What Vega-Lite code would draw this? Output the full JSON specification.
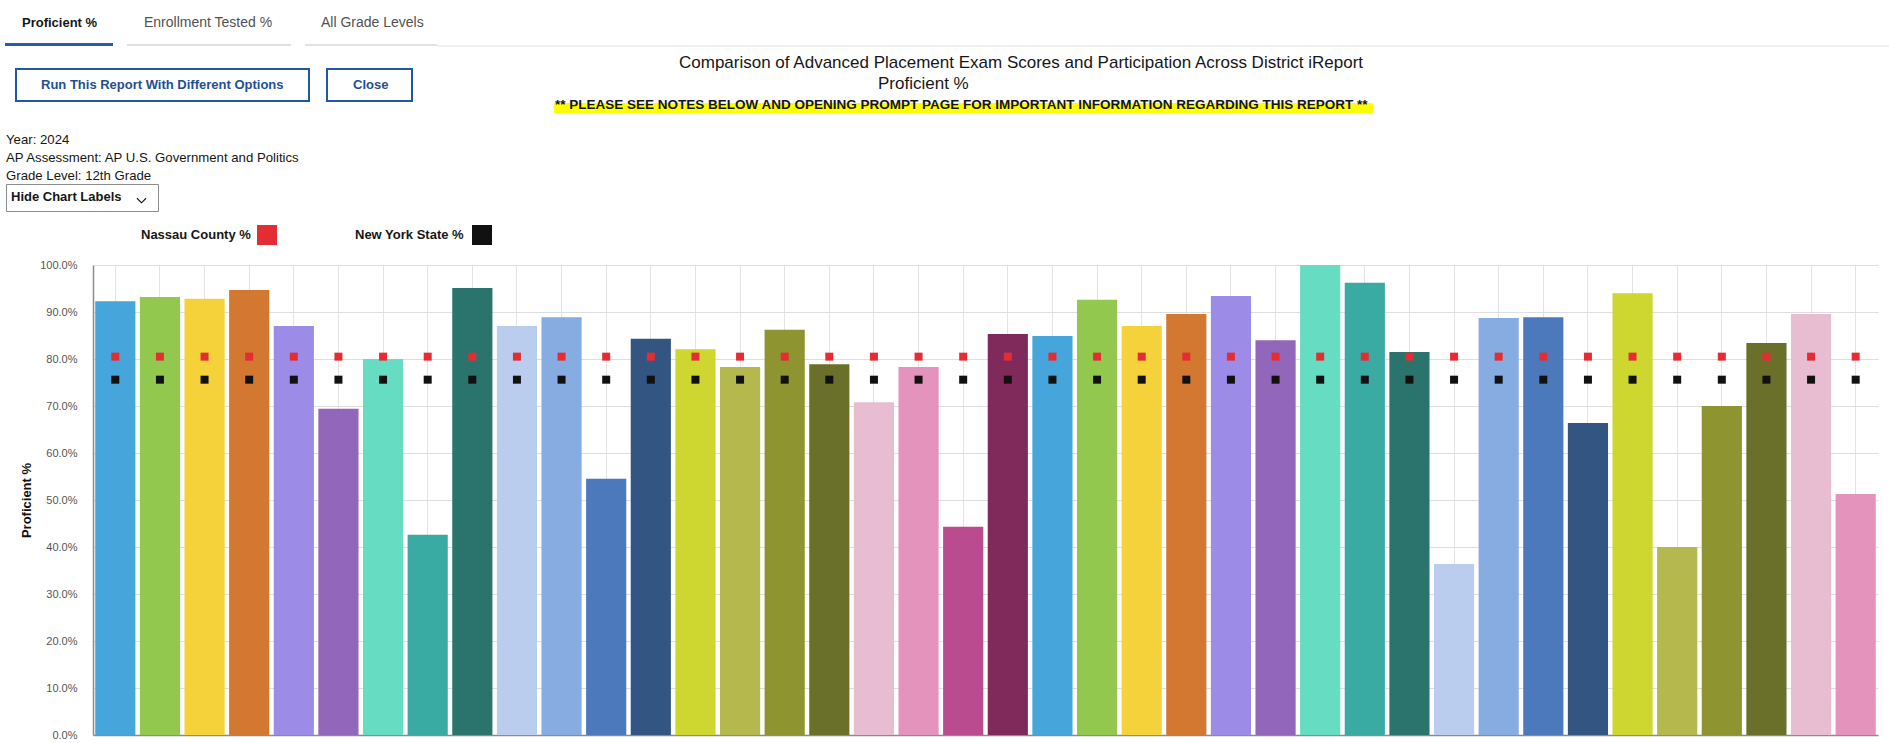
{
  "$schema": "https://vega.github.io/schema/vega-lite/v6.json",
  "autosize": {"type": "none"},
  "width": 1785,
  "height": 470,
  "padding": {"left": 93, "top": 265, "right": 11, "bottom": 8},
  "background": "white",
  "data": {
    "values": [
      {"district": "District 01", "proficient": 92.3, "Nassau County %": 80.5, "New York State %": 75.6},
      {"district": "District 02", "proficient": 93.2, "Nassau County %": 80.5, "New York State %": 75.6},
      {"district": "District 03", "proficient": 92.8, "Nassau County %": 80.5, "New York State %": 75.6},
      {"district": "District 04", "proficient": 94.7, "Nassau County %": 80.5, "New York State %": 75.6},
      {"district": "District 05", "proficient": 87.0, "Nassau County %": 80.5, "New York State %": 75.6},
      {"district": "District 06", "proficient": 69.4, "Nassau County %": 80.5, "New York State %": 75.6},
      {"district": "District 07", "proficient": 80.0, "Nassau County %": 80.5, "New York State %": 75.6},
      {"district": "District 08", "proficient": 42.6, "Nassau County %": 80.5, "New York State %": 75.6},
      {"district": "District 09", "proficient": 95.1, "Nassau County %": 80.5, "New York State %": 75.6},
      {"district": "District 10", "proficient": 87.0, "Nassau County %": 80.5, "New York State %": 75.6},
      {"district": "District 11", "proficient": 88.9, "Nassau County %": 80.5, "New York State %": 75.6},
      {"district": "District 12", "proficient": 54.5, "Nassau County %": 80.5, "New York State %": 75.6},
      {"district": "District 13", "proficient": 84.3, "Nassau County %": 80.5, "New York State %": 75.6},
      {"district": "District 14", "proficient": 82.1, "Nassau County %": 80.5, "New York State %": 75.6},
      {"district": "District 15", "proficient": 78.3, "Nassau County %": 80.5, "New York State %": 75.6},
      {"district": "District 16", "proficient": 86.2, "Nassau County %": 80.5, "New York State %": 75.6},
      {"district": "District 17", "proficient": 78.9, "Nassau County %": 80.5, "New York State %": 75.6},
      {"district": "District 18", "proficient": 70.8, "Nassau County %": 80.5, "New York State %": 75.6},
      {"district": "District 19", "proficient": 78.3, "Nassau County %": 80.5, "New York State %": 75.6},
      {"district": "District 20", "proficient": 44.3, "Nassau County %": 80.5, "New York State %": 75.6},
      {"district": "District 21", "proficient": 85.3, "Nassau County %": 80.5, "New York State %": 75.6},
      {"district": "District 22", "proficient": 84.9, "Nassau County %": 80.5, "New York State %": 75.6},
      {"district": "District 23", "proficient": 92.6, "Nassau County %": 80.5, "New York State %": 75.6},
      {"district": "District 24", "proficient": 87.0, "Nassau County %": 80.5, "New York State %": 75.6},
      {"district": "District 25", "proficient": 89.6, "Nassau County %": 80.5, "New York State %": 75.6},
      {"district": "District 26", "proficient": 93.4, "Nassau County %": 80.5, "New York State %": 75.6},
      {"district": "District 27", "proficient": 84.0, "Nassau County %": 80.5, "New York State %": 75.6},
      {"district": "District 28", "proficient": 100.0, "Nassau County %": 80.5, "New York State %": 75.6},
      {"district": "District 29", "proficient": 96.2, "Nassau County %": 80.5, "New York State %": 75.6},
      {"district": "District 30", "proficient": 81.5, "Nassau County %": 80.5, "New York State %": 75.6},
      {"district": "District 31", "proficient": 36.4, "Nassau County %": 80.5, "New York State %": 75.6},
      {"district": "District 32", "proficient": 88.7, "Nassau County %": 80.5, "New York State %": 75.6},
      {"district": "District 33", "proficient": 88.9, "Nassau County %": 80.5, "New York State %": 75.6},
      {"district": "District 34", "proficient": 66.4, "Nassau County %": 80.5, "New York State %": 75.6},
      {"district": "District 35", "proficient": 94.0, "Nassau County %": 80.5, "New York State %": 75.6},
      {"district": "District 36", "proficient": 40.0, "Nassau County %": 80.5, "New York State %": 75.6},
      {"district": "District 37", "proficient": 70.0, "Nassau County %": 80.5, "New York State %": 75.6},
      {"district": "District 38", "proficient": 83.4, "Nassau County %": 80.5, "New York State %": 75.6},
      {"district": "District 39", "proficient": 89.6, "Nassau County %": 80.5, "New York State %": 75.6},
      {"district": "District 40", "proficient": 51.3, "Nassau County %": 80.5, "New York State %": 75.6}
    ]
  },
  "encoding": {
    "x": {
      "field": "district",
      "type": "nominal",
      "scale": {"paddingInner": 0.1, "paddingOuter": 0.05},
      "axis": {
        "title": null,
        "labels": false,
        "ticks": false,
        "domain": true,
        "domainColor": "#8c8c8c",
        "domainWidth": 1.5,
        "grid": true,
        "gridColor": "#e3e3e3",
        "bandPosition": 0.5
      }
    }
  },
  "layer": [
    {
      "mark": {"type": "bar"},
      "encoding": {
        "y": {
          "field": "proficient",
          "type": "quantitative",
          "title": "Proficient %",
          "scale": {"domain": [0, 100], "nice": false},
          "axis": {
            "titleFont": "Liberation Sans",
            "titleFontSize": 13,
            "titleFontWeight": "bold",
            "titleColor": "#111111",
            "titlePadding": 6,
            "values": [0, 10, 20, 30, 40, 50, 60, 70, 80, 90, 100],
            "labelExpr": "format(datum.value, '.1f') + '%'",
            "labelFont": "Liberation Sans",
            "labelFontSize": 11,
            "labelColor": "#555555",
            "labelPadding": 16,
            "ticks": false,
            "domain": true,
            "domainColor": "#8c8c8c",
            "domainWidth": 1.5,
            "grid": true,
            "gridColor": "#dedede"
          }
        },
        "color": {
          "field": "district",
          "type": "nominal",
          "scale": {
            "range": ["#46a5da", "#93c84f", "#f6d23a", "#d27830", "#9d8be8", "#9266ba", "#66dcc2", "#3aaba3", "#2b746e", "#bbcdee", "#86ace1", "#4c79bb", "#335582", "#ced630", "#b4b84d", "#8e942f", "#6a7029", "#e9bdd1", "#e393bc", "#b94b8e", "#7f2a5b", "#46a5da", "#93c84f", "#f6d23a", "#d27830", "#9d8be8", "#9266ba", "#66dcc2", "#3aaba3", "#2b746e", "#bbcdee", "#86ace1", "#4c79bb", "#335582", "#ced630", "#b4b84d", "#8e942f", "#6a7029", "#e9bdd1", "#e393bc"]
          },
          "legend": {
            "orient": "none",
            "legendX": -87,
            "legendY": -131.5,
            "title": ["Year: 2024", "AP Assessment: AP U.S. Government and Politics", "Grade Level: 12th Grade"],
            "titleFontSize": 13.2,
            "titleFontWeight": "normal",
            "titleColor": "#161616",
            "titleLineHeight": 18.1,
            "values": ["District 01"],
            "symbolOpacity": 0,
            "symbolSize": 1,
            "labelExpr": "''"
          }
        },
        "strokeDash": {
          "datum": "Comparison of Advanced Placement Exam Scores and Participation Across District iReport",
          "type": "nominal",
          "scale": {"range": [[1, 0]]},
          "legend": {
            "orient": "none",
            "legendX": 586,
            "legendY": -207,
            "title": "Comparison of Advanced Placement Exam Scores and Participation Across District iReport",
            "titleFontSize": 17,
            "titleFontWeight": "normal",
            "titleColor": "#161616",
            "titleOrient": "left",
            "titlePadding": 0,
            "symbolOpacity": 0,
            "symbolSize": 1,
            "labelExpr": "''",
            "labelOffset": 0
          }
        },
        "stroke": {
          "datum": "Hide Chart Labels",
          "type": "nominal",
          "scale": {"range": ["transparent"]},
          "legend": {
            "orient": "none",
            "legendX": -87,
            "legendY": -81,
            "title": "Hide Chart Labels",
            "titleFontSize": 13,
            "titleFontWeight": "bold",
            "titleColor": "#161616",
            "titleOrient": "left",
            "titlePadding": 8,
            "strokeColor": "#8d8d8d",
            "padding": 5,
            "symbolType": "M-0.43,-0.16L0,0.27L0.43,-0.16L0.36,-0.23L0,0.13L-0.36,-0.23Z",
            "symbolSize": 529,
            "symbolFillColor": "#161616",
            "symbolStrokeWidth": 0,
            "symbolOpacity": 1,
            "labelExpr": "''",
            "labelOffset": 0
          }
        },
        "opacity": {
          "datum": "Proficient %",
          "type": "ordinal",
          "scale": {"range": [1, 1]},
          "legend": {
            "orient": "none",
            "legendX": 785,
            "legendY": -186,
            "title": "Proficient %",
            "titleFontSize": 17,
            "titleFontWeight": "normal",
            "titleColor": "#161616",
            "titleOrient": "left",
            "titlePadding": 0,
            "symbolSize": 1,
            "symbolFillColor": "transparent",
            "symbolStrokeColor": "transparent",
            "symbolStrokeWidth": 0,
            "labelExpr": "''",
            "labelOffset": 0
          }
        }
      }
    },
    {
      "transform": [
        {"fold": ["Nassau County %"], "as": ["series", "value"]}
      ],
      "mark": {"type": "point", "shape": "square", "filled": true},
      "encoding": {
        "y": {"field": "value", "type": "quantitative", "title": "Proficient %"},
        "color": {
          "field": "series",
          "type": "nominal",
          "scale": {"domain": ["Nassau County %"], "range": ["#e42d33"]},
          "legend": {
            "orient": "none",
            "legendX": 48,
            "legendY": -40,
            "title": null,
            "symbolType": "square",
            "symbolSize": 400,
            "symbolOffset": 116,
            "labelOffset": -136,
            "labelFontSize": 13,
            "labelFontWeight": "bold",
            "labelColor": "#161616",
            "symbolOpacity": 1,
            "symbolStrokeWidth": 0
          }
        },
        "opacity": {
          "datum": "Proficient %",
          "type": "ordinal",
          "scale": {"range": [1, 1]},
          "legend": {
            "orient": "none",
            "legendX": -71,
            "legendY": -248.5,
            "title": null,
            "symbolType": "M-17,20H91V23H-17Z",
            "symbolSize": 4,
            "symbolFillColor": "#2a5aa8",
            "symbolStrokeWidth": 0,
            "symbolOffset": -6.5,
            "labelOffset": -6.5,
            "labelFontSize": 13,
            "labelFontWeight": "bold",
            "labelColor": "#161616"
          }
        },
        "size": {
          "datum": "Enrollment Tested %",
          "type": "ordinal",
          "scale": {"range": [64, 64]},
          "legend": {
            "orient": "none",
            "legendX": 51,
            "legendY": -249,
            "title": null,
            "symbolType": "M-4.25,5.25H36.75V5.75H-4.25Z",
            "symbolFillColor": "#e0e0e0",
            "symbolStrokeWidth": 0,
            "symbolOpacity": 1,
            "symbolOffset": -7,
            "labelOffset": -7,
            "labelFontSize": 14,
            "labelFontWeight": "normal",
            "labelColor": "#525252"
          }
        },
        "strokeDash": {
          "datum": "Run This Report With Different Options",
          "type": "nominal",
          "scale": {"range": [[1, 0]]},
          "legend": {
            "orient": "none",
            "legendX": -52,
            "legendY": -186.5,
            "title": null,
            "symbolType": "M-26,-17H269V17H-26Z M-24,-15V15H267V-15Z",
            "symbolSize": 4,
            "symbolFillColor": "#2257a4",
            "symbolStrokeWidth": 0,
            "symbolOpacity": 1,
            "symbolOffset": -6.5,
            "labelOffset": -6.5,
            "labelFontSize": 13,
            "labelFontWeight": "bold",
            "labelColor": "#1f4f93"
          }
        },
        "stroke": {
          "datum": "Close",
          "type": "nominal",
          "scale": {"range": ["transparent"]},
          "legend": {
            "orient": "none",
            "legendX": 260,
            "legendY": -186.5,
            "title": null,
            "symbolType": "M-27,-17H60V17H-27Z M-25,-15V15H58V-15Z",
            "symbolSize": 4,
            "symbolFillColor": "#2257a4",
            "symbolStrokeWidth": 0,
            "symbolOpacity": 1,
            "symbolOffset": -6.5,
            "labelOffset": -6.5,
            "labelFontSize": 13,
            "labelFontWeight": "bold",
            "labelColor": "#1f4f93"
          }
        }
      }
    },
    {
      "transform": [
        {"fold": ["New York State %"], "as": ["series", "value"]}
      ],
      "mark": {"type": "point", "shape": "square", "filled": true, "size": 64},
      "encoding": {
        "y": {"field": "value", "type": "quantitative", "title": "Proficient %"},
        "color": {
          "field": "series",
          "type": "nominal",
          "scale": {"domain": ["New York State %"], "range": ["#111111"]},
          "legend": {
            "orient": "none",
            "legendX": 262,
            "legendY": -40,
            "title": null,
            "symbolType": "square",
            "symbolSize": 400,
            "symbolOffset": 117,
            "labelOffset": -137,
            "labelFontSize": 13,
            "labelFontWeight": "bold",
            "labelColor": "#161616",
            "symbolOpacity": 1,
            "symbolStrokeWidth": 0
          }
        },
        "opacity": {
          "datum": "All Grade Levels",
          "type": "ordinal",
          "scale": {"range": [1, 1]},
          "legend": {
            "orient": "none",
            "legendX": 228,
            "legendY": -249,
            "title": null,
            "symbolType": "M-16,21H116V23H-16Z M116,22.5H1568V23.5H116Z",
            "symbolSize": 4,
            "symbolFillColor": "#e2e2e2",
            "symbolStrokeWidth": 0,
            "symbolOffset": -7,
            "labelOffset": -7,
            "labelFontSize": 14,
            "labelFontWeight": "normal",
            "labelColor": "#525252"
          }
        },
        "strokeDash": {
          "datum": "** PLEASE SEE NOTES BELOW AND OPENING PROMPT PAGE FOR IMPORTANT INFORMATION REGARDING THIS REPORT **",
          "type": "nominal",
          "scale": {"range": [[1, 0]]},
          "legend": {
            "orient": "none",
            "legendX": 461,
            "legendY": -162,
            "title": "** PLEASE SEE NOTES BELOW AND OPENING PROMPT PAGE FOR IMPORTANT INFORMATION REGARDING THIS REPORT **",
            "titleFontSize": 13.5,
            "titleFontWeight": "bold",
            "titleColor": "#161616",
            "titleOrient": "left",
            "titlePadding": 0,
            "fillColor": "#ffff00",
            "padding": 1,
            "symbolOpacity": 0,
            "symbolSize": 1,
            "symbolFillColor": "transparent",
            "labelExpr": "''",
            "labelOffset": 0,
            "labelFontSize": 1
          }
        }
      }
    }
  ],
  "resolve": {"scale": {"color": "independent", "strokeDash": "independent", "stroke": "independent", "opacity": "independent", "size": "independent"}},
  "config": {
    "view": {"stroke": null},
    "font": "Liberation Sans",
    "legend": {"titleFont": "Liberation Sans", "labelFont": "Liberation Sans", "titleLimit": 2000, "labelLimit": 2000}
  }
}
